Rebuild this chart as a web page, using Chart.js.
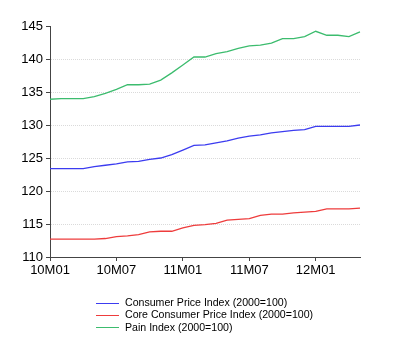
<!DOCTYPE html>
<html>
<head>
<meta charset="utf-8">
<script src="https://cdn.jsdelivr.net/npm/chart.js@4.4.0/dist/chart.umd.min.js"></script>
<style>
  html, body { margin: 0; padding: 0; background: #fff; }
  #wrap { position: relative; width: 400px; height: 358px; }
  #legend { position: absolute; left: 96px; top: 296px; font: 10.6px "Liberation Sans", Arial, sans-serif; color: #000; }
  #legend div { height: 12.3px; line-height: 12.3px; white-space: nowrap; }
  #legend span.ln { display: inline-block; width: 23px; height: 1px; vertical-align: middle; margin-right: 6px; }
</style>
</head>
<body>
<div id="wrap">
  <canvas id="chart" width="400" height="358"></canvas>
  <div id="legend"></div>
</div>
<script>
  var months = [];
  ["10", "11", "12"].forEach(function (y) {
    ["01","02","03","04","05","06","07","08","09","10","11","12"].forEach(function (m) {
      months.push(y + "M" + m);
    });
  });
  var labels = months.slice(0, 29);  // 10M01 .. 12M05

  var cpi = [123.4, 123.4, 123.4, 123.4, 123.7, 123.9, 124.1, 124.4, 124.5, 124.8,
             125.0, 125.5, 126.2, 126.9, 127.0, 127.3, 127.6, 128.0, 128.3, 128.5,
             128.8, 129.0, 129.2, 129.3, 129.8, 129.8, 129.8, 129.8, 130.0];
  var coreCpi = [112.7, 112.7, 112.7, 112.7, 112.7, 112.8, 113.1, 113.2, 113.4, 113.8,
                 113.9, 113.9, 114.4, 114.8, 114.9, 115.1, 115.6, 115.7, 115.8, 116.3,
                 116.5, 116.5, 116.7, 116.8, 116.9, 117.3, 117.3, 117.3, 117.4];
  var pain = [133.9, 134.0, 134.0, 134.0, 134.3, 134.8, 135.4, 136.1, 136.1, 136.2,
              136.8, 137.9, 139.1, 140.3, 140.3, 140.8, 141.1, 141.6, 142.0, 142.1,
              142.4, 143.1, 143.1, 143.4, 144.2, 143.6, 143.6, 143.4, 144.1];
  var shownTicks = ["10M01", "10M07", "11M01", "11M07", "12M01"];

  var series = [
    { label: "Consumer Price Index (2000=100)", data: cpi, color: "#3c3cf0" },
    { label: "Core Consumer Price Index (2000=100)", data: coreCpi, color: "#ee3c3c" },
    { label: "Pain Index (2000=100)", data: pain, color: "#3cbc6e" }
  ];

  var tickFont = { family: "'Liberation Sans', Arial, sans-serif", size: 13 };

  var ctx = document.getElementById('chart').getContext('2d');
  var chart = new Chart(ctx, {
    type: 'line',
    data: {
      labels: labels,
      datasets: series.map(function (s) {
        return {
          label: s.label,
          data: s.data,
          borderColor: s.color,
          backgroundColor: s.color,
          borderWidth: 1.3,
          pointRadius: 0,
          tension: 0,
          fill: false
        };
      })
    },
    options: {
      responsive: false,
      animation: false,
      layout: { padding: { left: 0, right: 40, top: 26, bottom: 71 } },
      plugins: { legend: { display: false }, tooltip: { enabled: false } },
      scales: {
        x: {
          offset: false,
          afterFit: function (scale) { scale.height = 30; },
          border: { display: true, color: '#444', width: 1 },
          grid: {
            drawOnChartArea: false,
            drawTicks: true,
            tickLength: 4,
            tickColor: '#444'
          },
          ticks: {
            autoSkip: false,
            maxRotation: 0,
            padding: 2,
            color: '#000',
            font: tickFont,
            callback: function (v, i) {
              var l = labels[i];
              return shownTicks.indexOf(l) >= 0 ? l : null;
            }
          }
        },
        y: {
          min: 110,
          max: 145,
          afterFit: function (scale) { scale.width = 50; },
          border: { display: true, color: '#444', width: 1, dash: [1, 1] },
          grid: {
            drawTicks: true,
            tickLength: 4,
            tickColor: '#444',
            color: function (c) {
              var v = c.tick && c.tick.value;
              return (v === 110 || v === 145) ? 'rgba(0,0,0,0)' : '#dadada';
            },
            lineWidth: 1
          },
          ticks: {
            stepSize: 5,
            padding: 3,
            color: '#000',
            font: tickFont
          }
        }
      }
    }
  });

  var legend = document.getElementById('legend');
  series.forEach(function (s) {
    var row = document.createElement('div');
    var ln = document.createElement('span');
    ln.className = 'ln';
    ln.style.background = s.color;
    row.appendChild(ln);
    row.appendChild(document.createTextNode(s.label));
    legend.appendChild(row);
  });
</script>
</body>
</html>
